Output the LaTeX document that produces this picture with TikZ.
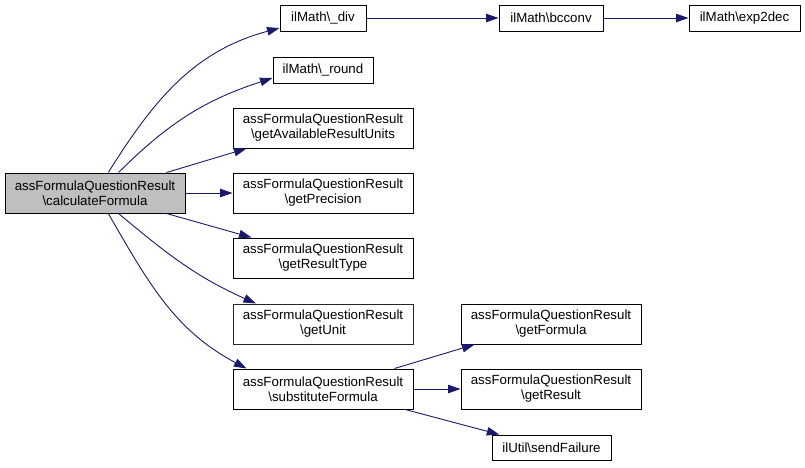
\documentclass[tikz,border=0pt]{standalone}
\usepackage{fontspec}
\setmainfont{Liberation Sans}
\usetikzlibrary{arrows.meta}
\definecolor{edgeblue}{HTML}{191970}
\definecolor{rootgrey}{HTML}{BFBFBF}

\begin{document}
\begin{tikzpicture}[x=1pt, y=-1pt,
    box/.style={draw=black, line width=1pt, fill=white, align=center, inner sep=0pt,
        font=\fontsize{13.3}{15}\selectfont},
    small/.style={box, minimum height=26pt},
    big/.style={box, minimum width=180pt, minimum height=40pt},
    call/.style={draw=edgeblue, line width=0.9pt,
        -{Triangle[length=12.5pt, width=8.5pt]}, edgeblue}]
    \useasboundingbox (0, 0) rectangle (805, 467);
    \node[big, fill=rootgrey] (0) at (95, 193) {assFormulaQuestionResult\\\textbackslash calculateFormula};
    \node[small, minimum width=86pt] (1) at (323, 18) {ilMath\textbackslash\_div};
    \node[small, minimum width=100pt] (2) at (323, 70) {ilMath\textbackslash\_round};
    \node[big] (3) at (323, 128) {assFormulaQuestionResult\\\textbackslash getAvailableResultUnits};
    \node[big] (4) at (323, 193) {assFormulaQuestionResult\\\textbackslash getPrecision};
    \node[big] (5) at (323, 258) {assFormulaQuestionResult\\\textbackslash getResultType};
    \node[big, draw=black!85] (6) at (323, 324) {assFormulaQuestionResult\\\textbackslash getUnit};
    \node[big] (7) at (323, 389) {assFormulaQuestionResult\\\textbackslash substituteFormula};
    \node[small, minimum width=104pt] (8) at (551, 18) {ilMath\textbackslash bcconv};
    \node[small, minimum width=111pt] (9) at (744.5, 18) {ilMath\textbackslash exp2dec};
    \node[big] (10) at (551, 324) {assFormulaQuestionResult\\\textbackslash getFormula};
    \node[big] (11) at (551, 389) {assFormulaQuestionResult\\\textbackslash getResult};
    \node[small, minimum width=119pt, minimum height=25pt] (12) at (551.5, 447.5) {ilUtil\textbackslash sendFailure};
    \draw[call] (0.57) to[out=58, in=195] (1.193);
    \draw[call] (0.41) to[out=45, in=198] (2.189);
    \draw[call] (0.16) -- (3.195);
    \draw[call] (0.east) -- (4.west);
    \draw[call] (0.-16) -- (5.164);
    \draw[call] (0.-41) to[out=-40, in=156] (6.163);
    \draw[call] (0.-57) to[out=-60, in=152] (7.165);
    \draw[call] (1.east) -- (8.west);
    \draw[call] (8.east) -- (9.west);
    \draw[call] (7.16) -- (10.195);
    \draw[call] (7.east) -- (11.west);
    \draw[call] (7.-14) -- (12.166);
\end{tikzpicture}
\end{document}
